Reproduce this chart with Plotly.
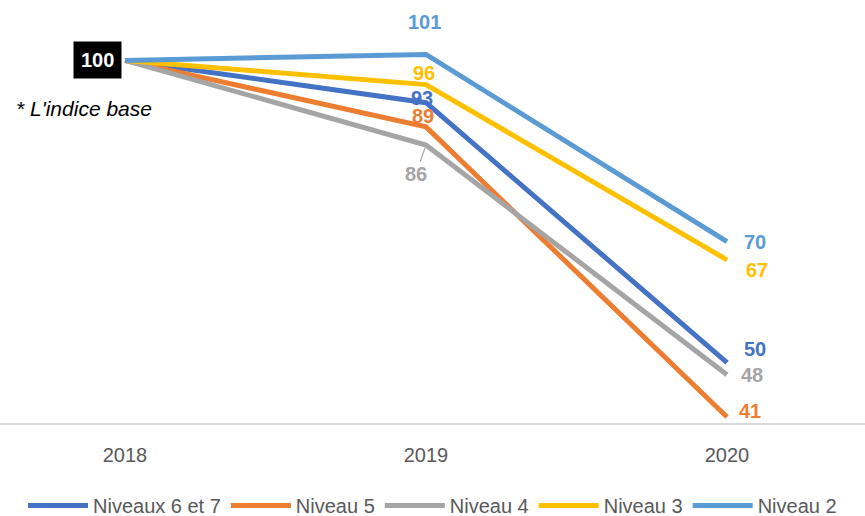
import plotly.graph_objects as go

years = ["2018", "2019", "2020"]
series_names = ["Niveaux 6 et 7", "Niveau 5", "Niveau 4", "Niveau 3", "Niveau 2"]
niveaux_6_7 = [100, 93, 50]
niveau_5 = [100, 89, 41]
niveau_4 = [100, 86, 48]
niveau_3 = [100, 96, 67]
niveau_2 = [100, 101, 70]
base_note = "* L'indice base"

colors = ["#4472C4", "#ED7D31", "#A5A5A5", "#FFC000", "#5B9BD5"]
# pixel offsets of the data labels (2019, 2020) for each series
label_shifts = [
    [(-4, 5), (28, 14)],
    [(-3, 11), (23, 6)],
    [None, (25, 0)],
    [(-2, 12), (30, -10)],
    [(-2, 32), (28, 0)],
]

FONT = "Liberation Sans, Arial, sans-serif"
all_series = [niveaux_6_7, niveau_5, niveau_4, niveau_3, niveau_2]
xs = list(range(len(years)))

fig = go.Figure()
for name, vals, col in zip(series_names, all_series, colors):
    fig.add_trace(
        go.Scatter(
            x=xs,
            y=vals,
            mode="lines",
            name=name,
            line=dict(color=col, width=5),
            hoverinfo="skip",
        )
    )

for vals, col, shifts in zip(all_series, colors, label_shifts):
    for i in (1, 2):
        sh = shifts[i - 1]
        if sh is None:
            # label placed below with a small leader line
            fig.add_annotation(
                x=xs[i], y=vals[i], text=str(vals[i]),
                showarrow=True, arrowhead=0, arrowwidth=1.2, arrowcolor=col,
                ax=-10, ay=29, standoff=3,
                font=dict(family=FONT, size=20, color=col, weight="bold"),
            )
        else:
            fig.add_annotation(
                x=xs[i], y=vals[i], text=str(vals[i]), showarrow=False,
                xshift=sh[0], yshift=sh[1],
                font=dict(family=FONT, size=20, color=col, weight="bold"),
            )

fig.add_annotation(
    x=xs[0], y=niveau_2[0], text=str(niveau_2[0]), showarrow=False,
    xanchor="right", xshift=-3, bgcolor="black", borderpad=7,
    font=dict(family=FONT, size=20, color="white", weight="bold"),
)
fig.add_annotation(
    x=14 / 865, y=niveau_2[0], xref="paper", text=base_note, showarrow=False,
    xanchor="left", yshift=-48,
    font=dict(family=FONT, size=21, color="black", style="italic"),
)

fig.update_xaxes(
    range=[-125 / 301, 740 / 301],
    tickvals=xs,
    ticktext=years,
    showgrid=False,
    zeroline=False,
    showline=True,
    linecolor="#D9D9D9",
    linewidth=2,
    ticks="",
    ticklabelstandoff=13,
    tickfont=dict(family=FONT, size=20, color="#595959"),
)
fig.update_yaxes(
    range=[40, 110],
    visible=False,
    showgrid=False,
    zeroline=False,
)
fig.update_layout(
    width=865,
    height=516,
    margin=dict(l=0, r=0, t=0, b=93, autoexpand=False),
    plot_bgcolor="white",
    paper_bgcolor="white",
    showlegend=True,
    legend=dict(
        orientation="h",
        x=0.5,
        xanchor="center",
        y=-0.195,
        yanchor="middle",
        font=dict(family=FONT, size=20, color="#595959"),
        itemwidth=60,
        tracegroupgap=0,
    ),
)

# drop the default page margin so the figure fills the window
fig.write_html(
    "out.html",
    config={"displayModeBar": False},
    post_script="document.body.style.margin='0';document.body.style.overflow='hidden';",
)
